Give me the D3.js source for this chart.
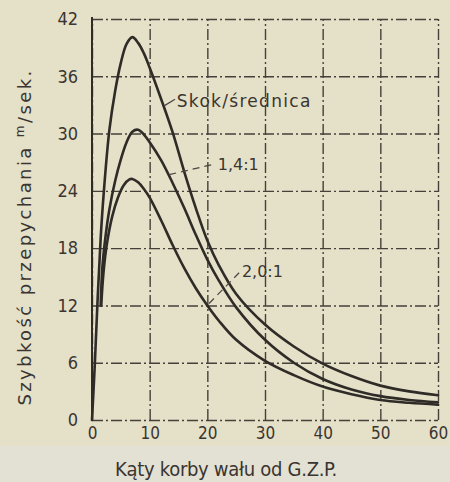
<!DOCTYPE html>
<html>
<head>
<meta charset="utf-8">
<script src="https://cdn.jsdelivr.net/npm/d3@7"></script>
<style>
  html, body { margin: 0; padding: 0; background: #e4dfc8; }
  svg { display: block; }
  text { font-family: "DejaVu Sans", "Liberation Sans", sans-serif; fill: #3a3530; }
  .cond { font-stretch: condensed; }
</style>
</head>
<body>
<svg id="chart" width="450" height="482"></svg>
<script>
// ---- data ----
const xTicks = [0, 10, 20, 30, 40, 50, 60];
const yTicks = [0, 6, 12, 18, 24, 30, 36, 42];

// Skok/średnica – top curve
const curveTop = [
  [0, 0], [0.5, 6], [1, 13], [1.5, 19], [2, 23.5], [3, 30.3], [4, 34.4], [5, 37.4],
  [6, 39.4], [7, 40.1], [8, 39.5], [9, 38.4], [10, 36.9], [12, 33.6], [14, 30.1],
  [16, 26.0], [18, 22.2], [20, 18.8], [22, 16.2], [25, 13.2], [30, 10.0], [35, 7.7],
  [40, 5.9], [45, 4.6], [50, 3.6], [55, 3.0], [60, 2.6]
];
// 1,4:1 – middle curve
const curveMid = [
  [1.5, 12], [1.8, 16], [2.3, 19], [3, 22], [4, 25], [5, 27.3], [6, 29.1], [7, 30.2],
  [8, 30.4], [9, 29.9], [10, 29.1], [12, 27.2], [14, 24.8], [16, 22.2], [18, 19.4],
  [20, 16.8], [22, 14.6], [25, 11.8], [30, 8.4], [35, 6.0], [40, 4.3], [45, 3.2],
  [50, 2.5], [55, 2.1], [60, 1.85]
];
// 2,0:1 – lower curve
const curveLow = [
  [1.6, 12], [2, 15.5], [2.6, 18.5], [3.5, 21.3], [4.5, 23.3], [5.5, 24.6], [6.5, 25.2],
  [7, 25.25], [8, 24.9], [9, 24.2], [10, 23.3], [12, 20.9], [14, 18.3], [16, 15.9],
  [18, 13.8], [20, 12.0], [22, 10.4], [25, 8.4], [30, 6.2], [35, 4.7], [40, 3.5],
  [45, 2.7], [50, 2.1], [55, 1.8], [60, 1.6]
];

const xTitle = "Kąty korby wału od G.Z.P.";
const yTitleMain = "Szybkość przepychania ";
const yTitleUnitSup = "m";
const yTitleUnit = "/sek.";

// annotations: [text, x(deg), y(value)]
const labels = [
  ["Skok/średnica", 14.7, 32.8],
  ["1,4:1", 21.8, 26.2],
  ["2,0:1", 26.0, 15.0]
];
// leader lines: [x1, y1, x2, y2] in data units
const leaders = [
  [12.5, 32.9, 14.4, 33.6],
  [13.4, 25.7, 21.2, 26.8],
  [20.3, 12.2, 25.8, 15.6]
];

// ---- drawing ----
const svg = d3.select("#chart");
const ink = "#2f2b27";

svg.append("rect").attr("x", 0).attr("y", 0).attr("width", 450).attr("height", 446).attr("fill", "#e5e0c8");
svg.append("rect").attr("x", 0).attr("y", 446).attr("width", 450).attr("height", 36).attr("fill", "#e3e1d3");

const x = d3.scaleLinear().domain([0, 60]).range([92, 438]);
const y = d3.scaleLinear().domain([0, 42]).range([420, 19]);

const gridStyle = g => g.selectAll("line")
  .attr("stroke", "#45403a").attr("stroke-width", 1.4)
  .attr("stroke-dasharray", "11,3,2,3");

// vertical grid + x labels
const gx = svg.append("g").attr("transform", `translate(0,${y(0)})`)
  .call(d3.axisBottom(x).tickValues(xTicks).tickSize(-(y(0) - y(42))).tickPadding(7).tickFormat(d3.format("d")));
gx.select(".domain").remove();
gx.call(gridStyle);
gx.selectAll("text").attr("font-size", 17).attr("class", "cond").style("fill", "#3a3530");

// horizontal grid + y labels
const gy = svg.append("g").attr("transform", `translate(${x(0)},0)`)
  .call(d3.axisLeft(y).tickValues(yTicks).tickSize(-(x(60) - x(0))).tickPadding(14).tickFormat(d3.format("d")));
gy.select(".domain").remove();
gy.call(gridStyle);
gy.selectAll("text").attr("font-size", 18).attr("class", "cond").style("fill", "#3a3530");

// solid left axis
svg.append("line")
  .attr("x1", x(0)).attr("x2", x(0)).attr("y1", y(0) + 1).attr("y2", y(42) - 2)
  .attr("stroke", ink).attr("stroke-width", 2);

// curves
const line = d3.line().x(d => x(d[0])).y(d => y(d[1])).curve(d3.curveCatmullRom.alpha(0.5));
[curveTop, curveMid, curveLow].forEach(c => {
  svg.append("path").datum(c).attr("d", line)
    .attr("fill", "none").attr("stroke", ink).attr("stroke-width", 2.6)
    .attr("stroke-linejoin", "round").attr("stroke-linecap", "round");
});

// leaders
svg.selectAll(".leader").data(leaders).enter().append("line")
  .attr("class", "leader")
  .attr("x1", d => x(d[0])).attr("y1", d => y(d[1]))
  .attr("x2", d => x(d[2])).attr("y2", d => y(d[3]))
  .attr("stroke", "#4a4540").attr("stroke-width", 1.2)
  .attr("stroke-dasharray", (d, i) => i === 0 ? null : "7,5");

// labels
svg.selectAll(".lab").data(labels).enter().append("text")
  .attr("class", "lab")
  .attr("x", d => x(d[1])).attr("y", d => y(d[2]))
  .attr("font-size", (d, i) => i === 0 ? 17 : 16)
  .attr("letter-spacing", (d, i) => i === 0 ? 1.3 : 0)
  .text(d => d[0]);

// axis titles
svg.append("text")
  .attr("x", 226).attr("y", 476)
  .attr("text-anchor", "middle").attr("font-size", 20)
  .attr("class", "cond").attr("letter-spacing", -0.3)
  .text(xTitle);

const yt = svg.append("text")
  .attr("transform", "translate(31,237) rotate(-90)")
  .attr("text-anchor", "middle").attr("font-size", 18)
  .attr("letter-spacing", 2.4);
yt.append("tspan").text(yTitleMain);
yt.append("tspan").attr("font-size", 12).attr("dy", -7).text(yTitleUnitSup);
yt.append("tspan").attr("dy", 7).text(yTitleUnit);
</script>
</body>
</html>
